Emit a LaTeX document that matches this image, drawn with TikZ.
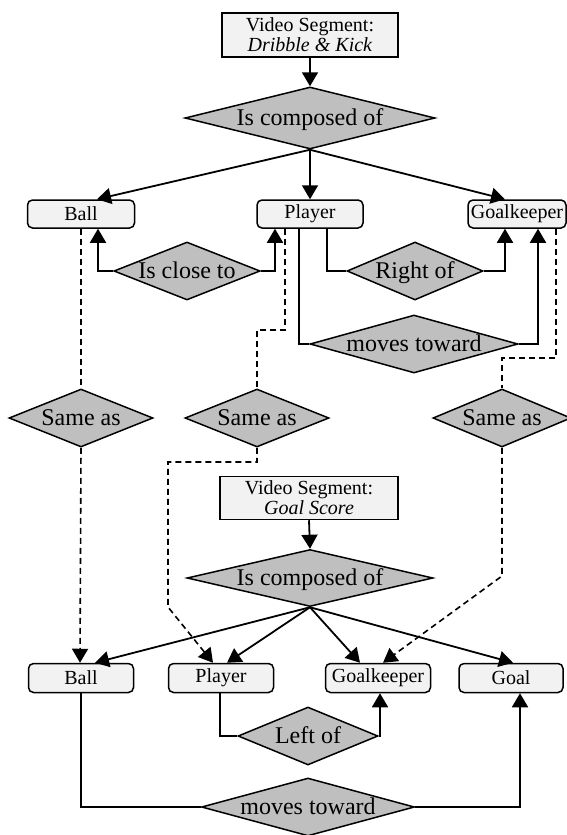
\documentclass[tikz,border=0pt]{standalone}
\usepackage{fontspec}
\setmainfont{Liberation Serif}
\usetikzlibrary{shapes.geometric,arrows.meta}

\begin{document}
\begin{tikzpicture}[x=1pt,y=-1pt,
  every node/.style={inner sep=0pt},
  segbox/.style={draw, line width=1.5pt, fill=gray!10, align=center,
    font=\fontsize{20}{20}\selectfont, minimum height=44pt},
  entity/.style={draw, line width=1.5pt, rounded corners=5pt, fill=gray!10,
    font=\fontsize{20}{20}\selectfont, minimum height=28pt},
  relation/.style={diamond, draw, line width=1.5pt, fill=gray!50,
    font=\fontsize{24}{24}\selectfont, text height=14pt, text depth=0pt,
    shape aspect=3.5, minimum height=58pt},
  link/.style={line width=1.8pt},
  tip/.style={-{Triangle[length=14pt,width=16pt]}},
  arr/.style={link, tip},
  same/.style={line width=1.6pt, dash pattern=on 6pt off 4pt},
  samearr/.style={same, tip}
]
\useasboundingbox (0,0) rectangle (566,835);

% ---- first segment ----
\node[segbox, minimum width=176pt] (vs1) at (310,35) {Video Segment:\\\textit{Dribble \& Kick}};
\node[relation, minimum width=250pt, minimum height=62pt, shape aspect=4] (comp1) at (310,118) {Is composed of};
\node[entity, minimum width=107pt] (ball1) at (81,214) {Ball};
\node[entity, minimum width=106pt] (player1) at (310,214) {Player};
\node[entity, minimum width=98pt] (gk1) at (517,214) {Goalkeeper};
\node[relation, minimum width=139pt] (close) at (187,271) {Is close to};
\node[relation, minimum width=136pt] (rightof) at (415,271) {Right of};
\node[relation, minimum width=208pt] (mv1) at (414,344) {moves toward};

% ---- identity links ----
\node[relation, minimum width=144pt] (same1) at (81,418) {Same as};
\node[relation, minimum width=144pt] (same2) at (257,418) {Same as};
\node[relation, minimum width=138pt] (same3) at (502,418) {Same as};

% ---- second segment ----
\node[segbox, minimum width=178pt, minimum height=43pt] (vs2) at (309,498) {Video Segment:\\\textit{Goal Score}};
\node[relation, minimum width=246pt, minimum height=57pt, shape aspect=4] (comp2) at (310,578) {Is composed of};
\node[entity, minimum width=105pt, minimum height=29pt] (ball2) at (81,678) {Ball};
\node[entity, minimum width=105pt, minimum height=29pt] (player2) at (221,678) {Player};
\node[entity, minimum width=105pt, minimum height=29pt] (gk2) at (378,678) {Goalkeeper};
\node[entity, minimum width=104pt, minimum height=29pt] (goal2) at (511,678) {Goal};
\node[relation, minimum width=140pt] (leftof) at (308,736) {Left of};
\node[relation, minimum width=213pt] (mv2) at (308,807) {moves toward};

% bend points of the dashed links
\coordinate (pbend) at (285,330);
\coordinate (gbend) at (502,358);
\coordinate (sbend) at (168,462);
\coordinate (sdrop) at (168,607);
\coordinate (gdrop) at (502,576);

% ---- connectors, first segment ----
\draw[arr] (vs1.south) -- (comp1.north);
\draw[arr] (comp1.south) -- ([xshift=16pt]ball1.north);
\draw[arr] (comp1.south) -- (player1.north);
\draw[arr] (comp1.south) -- ([xshift=-12pt]gk1.north);
\draw[arr] (close.west) -| ([xshift=17pt]ball1.south);
\draw[arr] (close.east) -| ([xshift=-35pt]player1.south);
\draw[link] ([xshift=17pt]player1.south) |- (rightof.west);
\draw[arr] (rightof.east) -| ([xshift=-12pt]gk1.south);
\draw[link] ([xshift=-11pt]player1.south) |- (mv1.west);
\draw[arr] (mv1.east) -| ([xshift=21pt]gk1.south);

% ---- dashed identity links ----
\draw[same] (ball1.south) -- (same1.north);
\draw[same] ([xshift=-25pt]player1.south) -- (pbend) -| (same2.north);
\draw[same] ([xshift=39pt]gk1.south) |- (gbend) -- (same3.north);
\draw[samearr] (same1.south) -- ([xshift=-1pt]ball2.north);
\draw[samearr] (same2.south) |- (sbend) -- (sdrop) -- ([xshift=-8pt]player2.north);
\draw[samearr] (same3.south) -- (gdrop) -- ([xshift=5pt]gk2.north);

% ---- connectors, second segment ----
\draw[arr] (vs2.south) -- (comp2.north);
\draw[arr] (comp2.south) -- ([xshift=14pt]ball2.north);
\draw[arr] (comp2.south) -- ([xshift=6pt]player2.north);
\draw[arr] (comp2.south) -- ([xshift=-18pt]gk2.north);
\draw[arr] (comp2.south) -- ([xshift=2pt]goal2.north);
\draw[link] ([xshift=-1pt]player2.south) |- (leftof.west);
\draw[arr] (leftof.east) -| ([xshift=2pt]gk2.south);
\draw[link] (ball2.south) |- (mv2.west);
\draw[arr] (mv2.east) -| ([xshift=9pt]goal2.south);
\end{tikzpicture}
\end{document}
